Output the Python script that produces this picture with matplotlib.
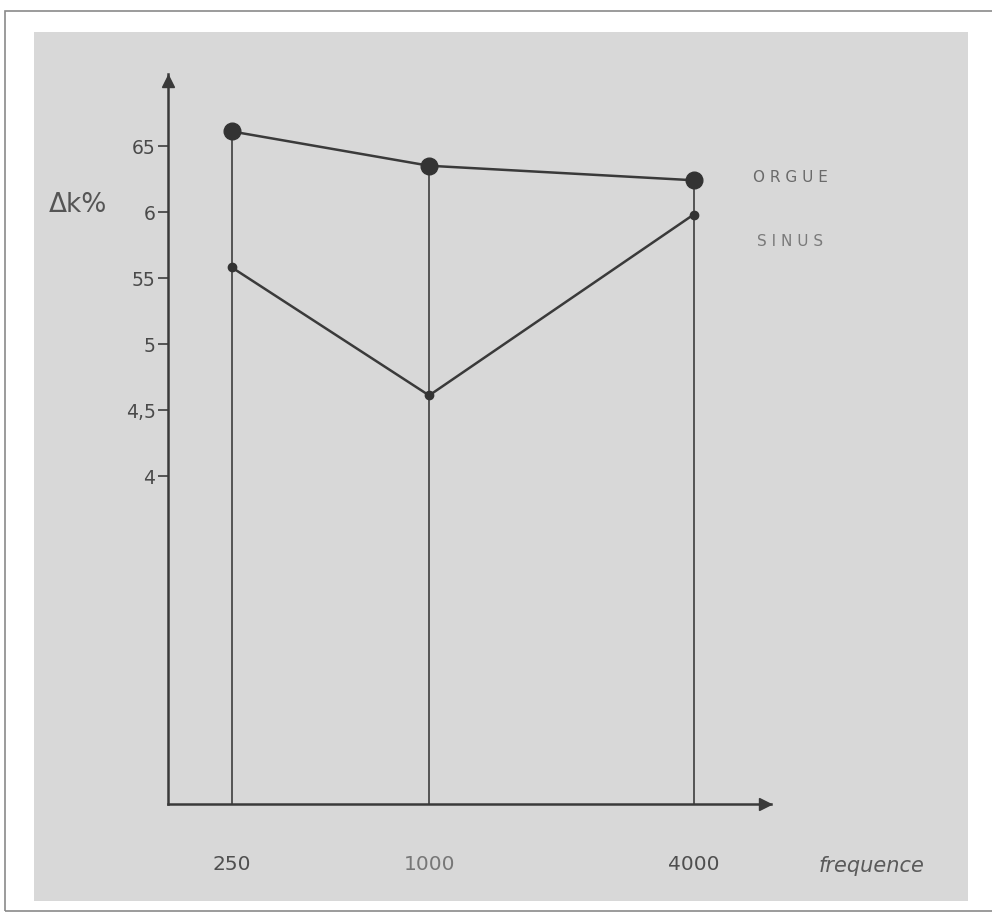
import matplotlib
matplotlib.use("Agg")
import matplotlib.pyplot as plt
from matplotlib.patches import Rectangle

# ---- data ----
frequencies = ["250", "1000", "4000"]
orgue = [6.61, 6.35, 6.24]
sinus = [5.58, 4.61, 5.98]
ytick_values = [6.5, 6.0, 5.5, 5.0, 4.5, 4.0]
ytick_labels = ["65", "6", "55", "5", "4,5", "4"]
series_names = ["ORGUE", "SINUS"]
ylabel = "\u0394k%"
xlabel = "frequence"

# ---- layout (hand-drawn, uneven spacing of the frequencies) ----
xpos = [0.0, 1.0, 2.34]

W, H = 992, 920
fig = plt.figure(figsize=(W / 100, H / 100), dpi=100)
fig.patch.set_facecolor("white")

def fx(px):
    return px / W

def fy(py):
    return 1 - py / H

# outer thin frame and grey panel
fig.patches.append(Rectangle((fx(5), fy(912)), fx(995) - fx(5), fy(12) - fy(912),
                             transform=fig.transFigure, facecolor="none",
                             edgecolor="#8a8a8a", linewidth=1.2, zorder=-2))
fig.patches.append(Rectangle((fx(34), fy(902)), fx(968) - fx(34), fy(33) - fy(902),
                             transform=fig.transFigure, facecolor="#d8d8d8",
                             edgecolor="none", zorder=-1))

ax_left, ax_right, ax_top, ax_bottom = 168, 771, 75, 805
ax = fig.add_axes([fx(ax_left), fy(ax_bottom), fx(ax_right) - fx(ax_left),
                   fy(ax_top) - fy(ax_bottom)])
ax.set_facecolor("none")
ax.set_zorder(1)

ymin, ymax = 1.515, 7.045
xmin, xmax = -0.323, 2.732
ax.set_xlim(xmin, xmax)
ax.set_ylim(ymin, ymax)

for s in ["top", "right"]:
    ax.spines[s].set_visible(False)
for s in ["left", "bottom"]:
    ax.spines[s].set_color("#3a3a3a")
    ax.spines[s].set_linewidth(1.8)

# arrow heads (tips at the axis ends)
ax_w = ax_right - ax_left
ax_h = ax_bottom - ax_top
ax.plot([0], [1 - 6.5 / ax_h], marker="^", markersize=9, color="#3a3a3a",
        transform=ax.transAxes, clip_on=False)
ax.plot([1 - 6.5 / ax_w], [0], marker=">", markersize=9, color="#3a3a3a",
        transform=ax.transAxes, clip_on=False)

# vertical drop lines from the upper point to the x axis
tops = [max(a, b) for a, b in zip(orgue, sinus)]
ax.vlines(xpos, ymin, tops, color="#4a4a4a", linewidth=1.3, zorder=2)

# series
ax.plot(xpos, orgue, color="#3a3a3a", linewidth=1.8, marker="o",
        markersize=12, markerfacecolor="#333333", markeredgecolor="#333333", zorder=3)
ax.plot(xpos, sinus, color="#3a3a3a", linewidth=1.8, marker="o",
        markersize=6, markerfacecolor="#333333", markeredgecolor="#333333", zorder=3)

# y ticks
ax.set_yticks(ytick_values)
ax.set_yticklabels(ytick_labels, fontsize=13.5, color="#4a4a4a")
ax.tick_params(axis="y", direction="out", length=7, width=1.3, color="#4a4a4a", pad=2)

# x ticks
ax.set_xticks(xpos)
ax.set_xticklabels(frequencies, fontsize=14.5, color="#555555")
ax.tick_params(axis="x", length=0, pad=36)
for lab, c in zip(ax.get_xticklabels(), ["#4f4f4f", "#777777", "#4f4f4f"]):
    lab.set_color(c)

# labels
fig.text(fx(78), fy(205), ylabel, fontsize=19, color="#555555",
         ha="center", va="center", family="DejaVu Sans")
fig.text(fx(872), fy(866), xlabel, fontsize=15, color="#5a5a5a",
         ha="center", va="center", style="italic")
fig.text(fx(790), fy(178), " ".join(series_names[0]), fontsize=11, color="#6a6a6a",
         ha="center", va="center")
fig.text(fx(790), fy(242), " ".join(series_names[1]), fontsize=11, color="#7a7a7a",
         ha="center", va="center")

fig.savefig("out.png", dpi=100)
